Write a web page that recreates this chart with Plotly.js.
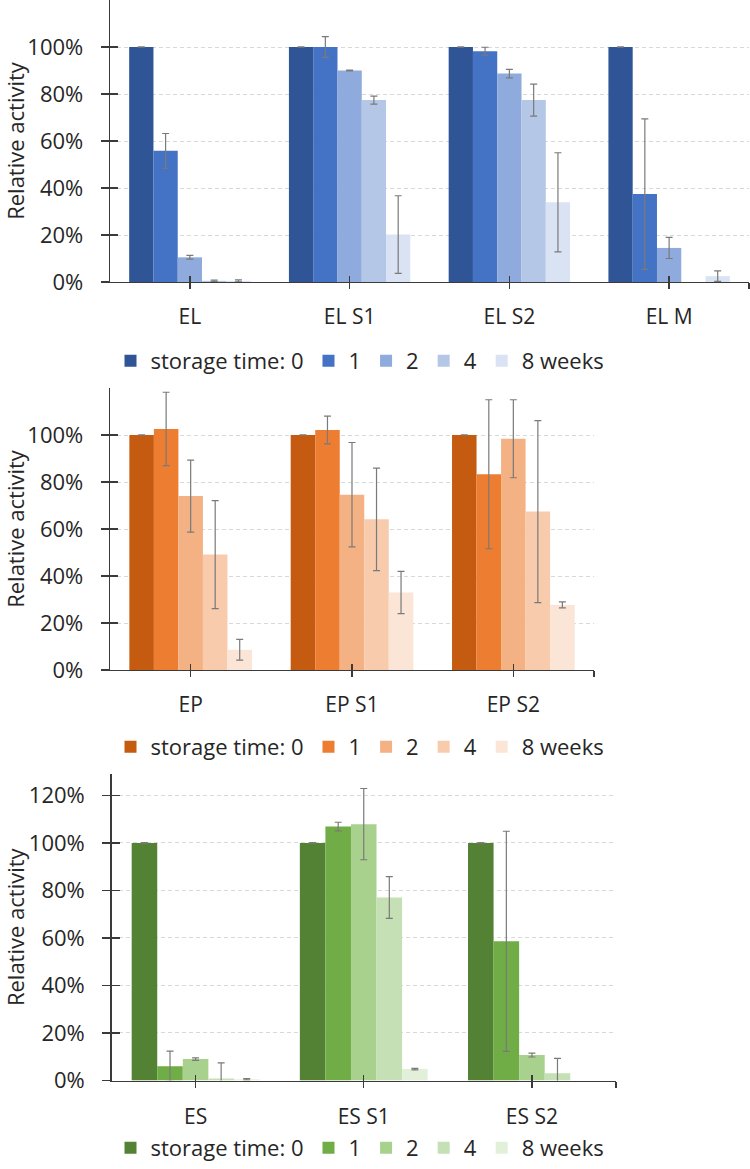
<!DOCTYPE html>
<html>
<head>
<meta charset="utf-8">
<script src="https://cdn.plot.ly/plotly-3.0.1.min.js"></script>
<style>html,body{margin:0;padding:0;background:#fff;}#chart{width:750px;height:1169px;}</style>
</head>
<body>
<div id="chart"></div>
<script>
// ---------- data ----------
const weekLabels = ['storage time: 0', '1', '2', '4', '8 weeks'];

const catsEL = ['EL', 'EL S1', 'EL S2', 'EL M'];
const elW0 = [1.00, 1.00, 1.00, 1.00];
const elW1 = [0.558, 1.00, 0.982, 0.374];
const elW2 = [0.105, 0.90, 0.887, 0.145];
const elW4 = [0.005, 0.774, 0.774, null];
const elW8 = [0.005, 0.202, 0.339, 0.025];
const elE0 = [0.001, 0.001, 0.001, 0.001];
const elE1 = [0.074, 0.044, 0.017, 0.32];
const elE2 = [0.008, 0.002, 0.018, 0.045];
const elE4 = [0.003, 0.017, 0.068, 0];
const elE8 = [0.004, 0.165, 0.211, 0.022];

const catsEP = ['EP', 'EP S1', 'EP S2'];
const epW0 = [1.00, 1.00, 1.00];
const epW1 = [1.026, 1.021, 0.833];
const epW2 = [0.740, 0.746, 0.984];
const epW4 = [0.491, 0.641, 0.674];
const epW8 = [0.086, 0.330, 0.277];
const epE0 = [0.001, 0.001, 0.001];
const epE1 = [0.156, 0.059, 0.317];
const epE2 = [0.153, 0.222, 0.166];
const epE4 = [0.230, 0.218, 0.387];
const epE8 = [0.044, 0.090, 0.013];

const catsES = ['ES', 'ES S1', 'ES S2'];
const esW0 = [1.00, 1.00, 1.00];
const esW1 = [0.060, 1.069, 0.586];
const esW2 = [0.090, 1.079, 0.107];
const esW4 = [0.008, 0.770, 0.031];
const esW8 = [0.005, 0.048, null];
const esE0 = [0.001, 0.001, 0.001];
const esE1 = [0.064, 0.018, 0.463];
const esE2 = [0.005, 0.150, 0.008];
const esE4 = [0.066, 0.088, 0.062];
const esE8 = [0.003, 0.003, 0];

const yTickVals = [0, 0.2, 0.4, 0.6, 0.8, 1.0];
const yTickVals3 = [0, 0.2, 0.4, 0.6, 0.8, 1.0, 1.2];

// ---------- styles ----------
const blues = ['#2F5597', '#4472C4', '#8FAADC', '#B4C7E7', '#DAE3F3'];
const oranges = ['#C55A11', '#ED7D31', '#F4B183', '#F8CBAD', '#FBE5D6'];
const greens = ['#548235', '#70AD47', '#A9D18E', '#C5E0B4', '#E2F0D9'];
const FONT = 'Open Sans, Noto Sans, sans-serif';
const TXT = '#262626';
const LINE = '#3a3a3a';

const panels = [
  {cats: catsEL, vals: [elW0, elW1, elW2, elW4, elW8], errs: [elE0, elE1, elE2, elE4, elE8], colors: blues,
   xdom: [110/750, 749/750], ydom: [1-282/1169, 1], yr: [0, 1.2], yt: yTickVals, legY: 1-361/1169, legA: 'middle', cso: 15},
  {cats: catsEP, vals: [epW0, epW1, epW2, epW4, epW8], errs: [epE0, epE1, epE2, epE4, epE8], colors: oranges,
   xdom: [110/750, 594/750], ydom: [1-670/1169, 1-388/1169], yr: [0, 1.2], yt: yTickVals, legY: 1-747/1169, legA: 'middle', cso: 15},
  {cats: catsES, vals: [esW0, esW1, esW2, esW4, esW8], errs: [esE0, esE1, esE2, esE4, esE8], colors: greens,
   xdom: [111.5/750, 616/750], ydom: [1-1080.5/1169, 1-774/1169], yr: [0, 1.29], yt: yTickVals3, legY: 0, legA: 'bottom', cso: 17}
];

const traces = [];
const layout = {
  width: 750, height: 1169,
  margin: {l: 0, r: 0, t: 0, b: 0, autoexpand: false},
  paper_bgcolor: '#fff', plot_bgcolor: '#fff',
  barmode: 'group', bargap: 0.24, bargroupgap: 0,
  font: {family: FONT, color: TXT, size: 20},
  showlegend: true
};

panels.forEach((p, i) => {
  const n = i + 1;
  const xid = n === 1 ? 'x' : 'x' + n;
  const yid = n === 1 ? 'y' : 'y' + n;
  const xo1 = 'x' + (n + 3), xo2 = 'x' + (n + 6), yo = 'y' + (n + 3);
  const legId = n === 1 ? 'legend' : 'legend' + n;

  p.vals.forEach((v, w) => {
    traces.push({
      type: 'bar', x: p.cats, y: v, name: weekLabels[w],
      xaxis: xid, yaxis: yid, legend: legId,
      marker: {color: p.colors[w], line: {width: 0}},
      error_y: {type: 'data', array: p.errs[w], visible: true, color: '#7a7a7a', thickness: 1.2, width: 3.5},
      hoverinfo: 'skip'
    });
  });
  // invisible anchors for tick overlays
  const tv = p.cats.map((c, k) => k).concat([p.cats.length - 0.5]);
  traces.push({type: 'scatter', x: [null], y: [null], xaxis: xo1, yaxis: yo, showlegend: false, hoverinfo: 'skip'});
  traces.push({type: 'scatter', x: [null], y: [null], xaxis: xo2, yaxis: yo, showlegend: false, hoverinfo: 'skip'});

  const axName = s => s === 'x' ? 'xaxis' : s === 'y' ? 'yaxis' : s.replace('x', 'xaxis').replace('y', 'yaxis');

  layout[axName(xid)] = {
    domain: p.xdom, anchor: yid, type: 'category', range: [-0.5, p.cats.length - 0.5],
    showline: true, linecolor: LINE, linewidth: 1.3, ticks: '', showgrid: false, zeroline: false,
    tickfont: {size: 21, color: TXT, family: FONT}, ticklabelstandoff: p.cso, fixedrange: true
  };
  layout[axName(yid)] = {
    domain: p.ydom, anchor: xid, range: p.yr, tickvals: p.yt, tickformat: '.0%',
    showline: true, linecolor: LINE, linewidth: 1.3, ticks: 'outside', ticklen: 8, tickcolor: LINE, tickwidth: 1.3,
    showgrid: true, gridcolor: '#d9d9d9', griddash: '4px,3px', gridwidth: 1, zeroline: false,
    tickfont: {size: 22, color: TXT, family: FONT}, ticklabelstandoff: 13,
    title: {text: 'Relative activity', font: {size: 22, color: TXT, family: FONT}, standoff: 0}
  };
  layout[axName(xo1)] = {
    overlaying: xid, anchor: yid, range: [-0.5, p.cats.length - 0.5], tickvals: tv, showticklabels: false,
    ticks: 'outside', ticklen: 6, tickcolor: LINE, tickwidth: 1.3, showgrid: false, zeroline: false, showline: false
  };
  layout[axName(xo2)] = {
    overlaying: xid, anchor: yid, range: [-0.5, p.cats.length - 0.5], tickvals: tv, showticklabels: false,
    ticks: 'inside', ticklen: 6, tickcolor: LINE, tickwidth: 1.3, showgrid: false, zeroline: false, showline: false
  };
  layout[axName(yo)] = {
    overlaying: yid, anchor: xid, range: p.yr, tickvals: p.yt, showticklabels: false,
    ticks: 'inside', ticklen: 8, tickcolor: LINE, tickwidth: 1.3, showgrid: false, zeroline: false, showline: false
  };
  layout[legId] = {
    orientation: 'h', x: 0.48, xanchor: 'center', y: p.legY, yanchor: p.legA,
    font: {size: 22, color: TXT, family: FONT}, bgcolor: 'rgba(0,0,0,0)', traceorder: 'normal'
  };
});

Plotly.newPlot('chart', traces, layout, {displayModeBar: false, staticPlot: true});
</script>
</body>
</html>
